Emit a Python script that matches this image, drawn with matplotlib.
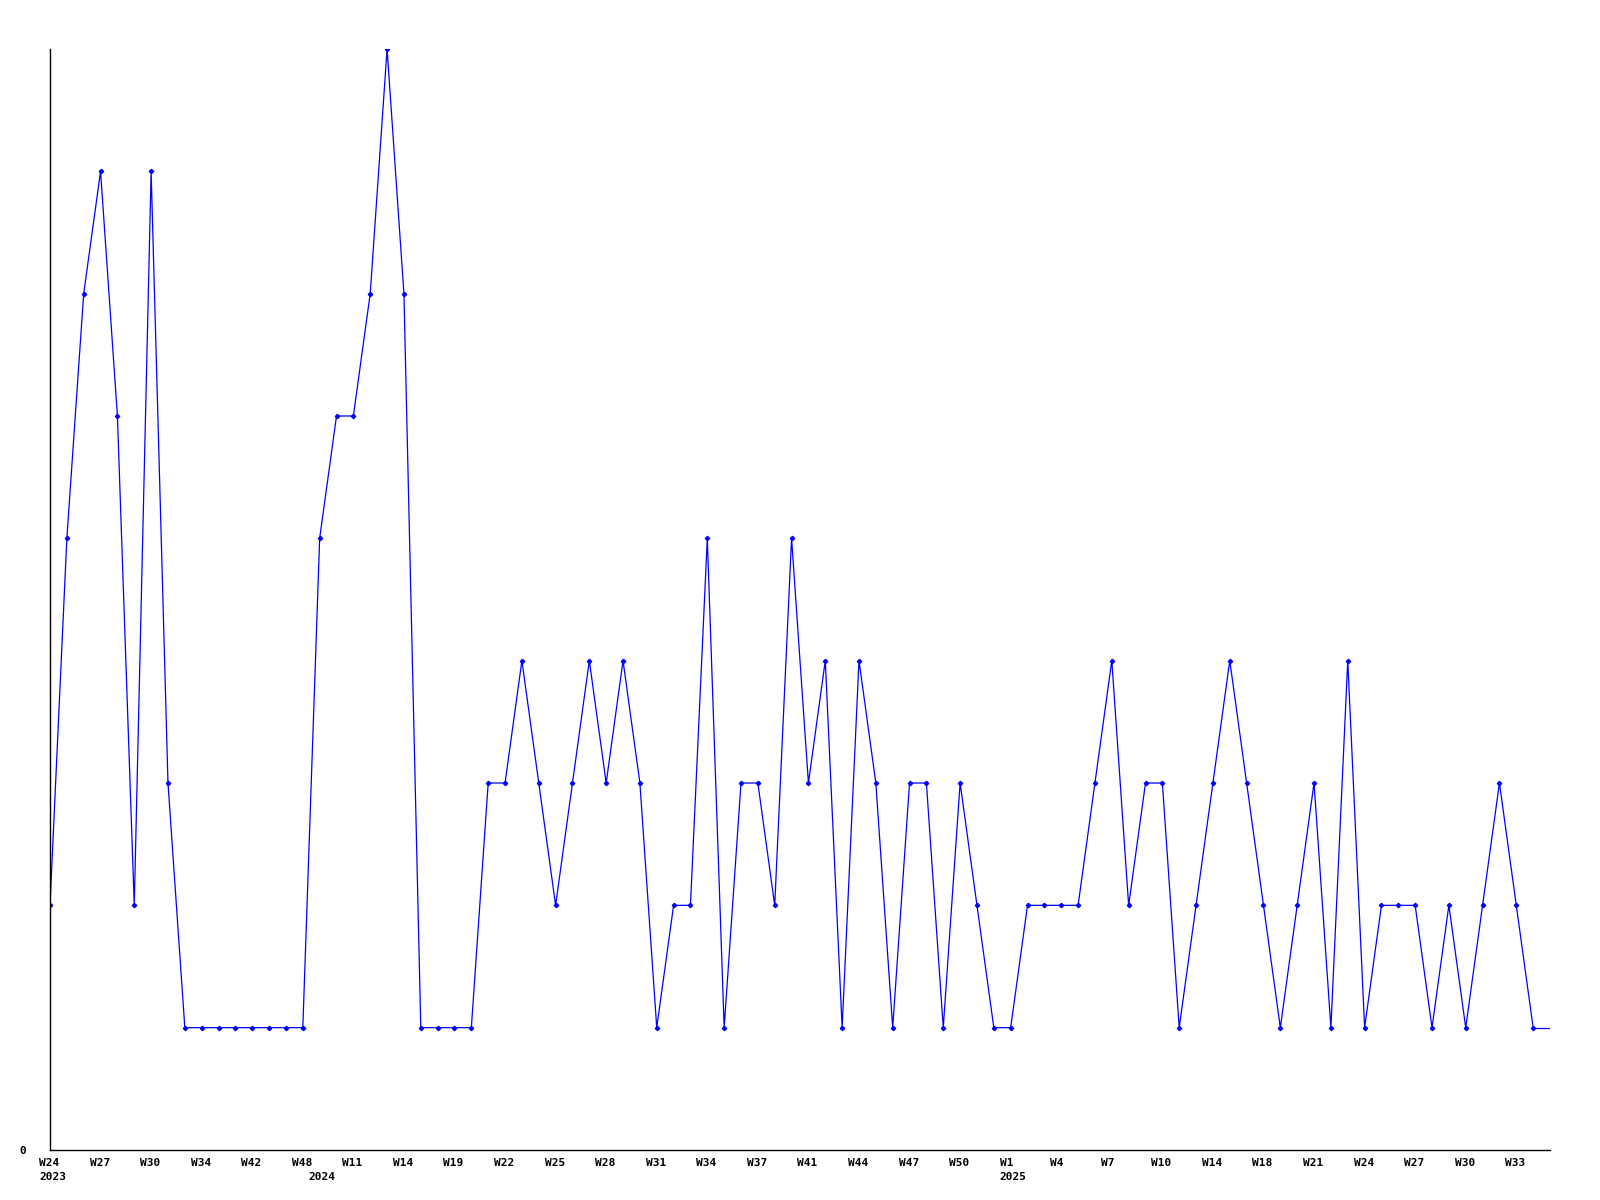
import numpy as np
import matplotlib.pyplot as plt
import matplotlib.transforms as mtransforms

# weekly counts, one per week shown
valores = [2, 5, 7, 8, 6, 2, 8, 3, 1, 1, 1, 1, 1, 1, 1, 1, 5, 6, 6, 7, 9, 7,
           1, 1, 1, 1, 3, 3, 4, 3, 2, 3, 4, 3, 4, 3, 1, 2, 2, 5, 1, 3, 3, 2,
           5, 3, 4, 1, 4, 3, 1, 3, 3, 1, 3, 2, 1, 1, 2, 2, 2, 2, 3, 4, 2, 3,
           3, 1, 2, 3, 4, 3, 2, 1, 2, 3, 1, 4, 1, 2, 2, 2, 1, 2, 1, 2, 3, 2,
           1, 1]

# positions (index in the series) and text of the week labels
tick_pos = [0, 3, 6, 9, 12, 15, 18, 21, 24, 27, 30, 33, 36, 39, 42, 45, 48,
            51, 54, 57, 60, 63, 66, 69, 72, 75, 78, 81, 84, 87]
tick_sem = ['W24', 'W27', 'W30', 'W34', 'W42', 'W48', 'W11', 'W14', 'W19',
            'W22', 'W25', 'W28', 'W31', 'W34', 'W37', 'W41', 'W44', 'W47',
            'W50', 'W1', 'W4', 'W7', 'W10', 'W14', 'W18', 'W21', 'W24',
            'W27', 'W30', 'W33']
# first week of each year
ano_pos = [0, 16, 57]
ano_txt = ['2023', '2024', '2025']

x = np.arange(len(valores))

fig = plt.figure(figsize=(16, 12), dpi=100)
ax = fig.add_axes([50/1600, 1 - 1150/1200, 1500/1600, 1101/1200])

ax.plot(x[:-1], valores[:-1], color='#0000ff', linewidth=0.9,
        marker='D', markersize=2.2)
ax.plot(x[-2:], valores[-2:], color='#0000ff', linewidth=0.9)

ax.set_xlim(0, len(valores) - 1)
ax.set_ylim(0, 9)

for s in ['top', 'right']:
    ax.spines[s].set_visible(False)
for s in ['left', 'bottom']:
    ax.spines[s].set_linewidth(1.0)
    ax.spines[s].set_color('black')

fonte = dict(family='DejaVu Sans Mono', fontweight='bold', fontsize=8)

ax.set_xticks(tick_pos)
ax.set_xticklabels(tick_sem, ha='left', **fonte)
ax.tick_params(axis='x', length=0, pad=6)
desloc = mtransforms.ScaledTranslation(-11/100, 0, fig.dpi_scale_trans)
for lab in ax.get_xticklabels():
    lab.set_transform(lab.get_transform() + desloc)

# year labels under the week labels
trans = mtransforms.blended_transform_factory(ax.transData, fig.transFigure)
for p, t in zip(ano_pos, ano_txt):
    ax.text(p, 1 - 1177/1200, t, ha='left', va='center',
            transform=trans + desloc, **fonte)

ax.set_yticks([0])
ax.set_yticklabels(['0'], **fonte)
ax.tick_params(axis='y', length=0, pad=17)

fig.savefig('out.png', dpi=100, facecolor='white')
